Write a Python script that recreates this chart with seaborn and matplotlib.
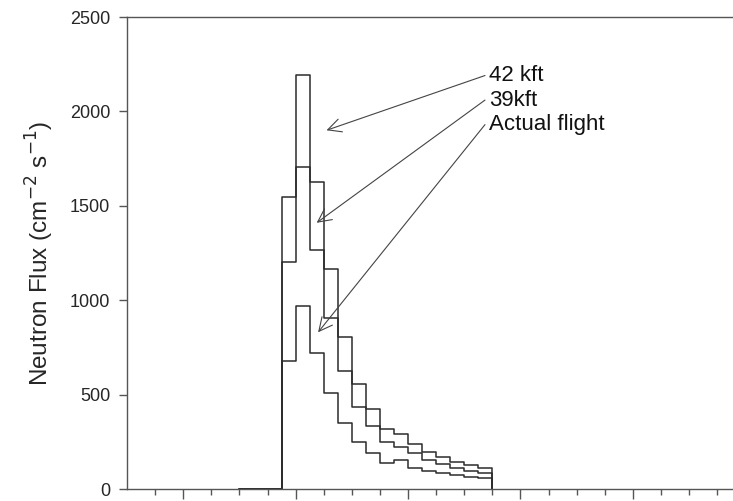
import matplotlib
matplotlib.use("Agg")
import matplotlib.pyplot as plt
import numpy as np
import pandas as pd
import seaborn as sns

# Bin edges of the step profile (x in minor-tick units) and flux per bin
bin_edges = [4.0, 4.5, 5.0, 5.5, 6.0, 6.5, 7.0, 7.5, 8.0, 8.5, 9.0,
             9.5, 10.0, 10.5, 11.0, 11.5, 12.0, 12.5, 13.0]
flux_42kft = [0, 0, 0, 1545, 2193, 1627, 1165, 805, 554, 424, 316,
              290, 238, 198, 168, 145, 127, 110]
flux_39kft = [0, 0, 0, 1200, 1706, 1268, 905, 627, 436, 334, 251,
              224, 189, 154, 132, 110, 97, 86]
flux_actual = [0, 0, 0, 680, 969, 719, 511, 352, 251, 192, 140,
               152, 113, 97, 83, 74, 65, 57]

series_names = ["42 kft", "39kft", "Actual flight"]
series_values = [flux_42kft, flux_39kft, flux_actual]

rows = []
for name, vals in zip(series_names, series_values):
    # last edge closes the histogram back to zero
    for x, y in zip(bin_edges, list(vals) + [0]):
        rows.append({"x": x, "flux": y, "series": name})
df = pd.DataFrame(rows)

sns.set_theme(style="ticks")
plt.rcParams["font.family"] = ["Liberation Sans", "DejaVu Sans"]

fig = plt.figure(figsize=(7.33, 5.01), dpi=100)
ax = fig.add_axes([127 / 733, 12 / 501, 606 / 733, 472 / 501])

line_color = "#2b2b2b"
sns.lineplot(data=df, x="x", y="flux", hue="series", hue_order=series_names,
             palette=[line_color] * 3, drawstyle="steps-post", linewidth=1.1,
             legend=False, ax=ax, sort=False, estimator=None)

ax.set_xlim(0, 606 / 28.1)
ax.set_ylim(0, 2500)
ax.set_yticks([0, 500, 1000, 1500, 2000, 2500])
ax.set_xticks([2, 6, 10, 14, 18])
ax.set_xticks([t for t in range(1, 22) if t not in (2, 6, 10, 14, 18)], minor=True)
ax.set_xticklabels([])
ax.set_xlabel("")
ax.set_ylabel("Neutron Flux (cm$^{-2}$ s$^{-1}$)", fontsize=17.5, labelpad=10)

spine_color = "#555555"
for side in ("left", "top", "bottom"):
    ax.spines[side].set_visible(True)
    ax.spines[side].set_color(spine_color)
    ax.spines[side].set_linewidth(1.0)
ax.spines["right"].set_visible(False)

ax.tick_params(axis="y", direction="out", length=6, width=1.0,
               color=spine_color, labelsize=13, pad=6)
ax.tick_params(axis="x", which="major", direction="out", length=7, width=1.0,
               color=spine_color)
ax.tick_params(axis="x", which="minor", direction="out", length=4, width=1.0,
               color=spine_color)

# Labels with arrows pointing to each curve
arrow_style = dict(arrowstyle="->", color="#444444", lw=0.8,
                   mutation_scale=24, shrinkA=0, shrinkB=0)
labels = [("42 kft", (7.1, 1900), (12.74, 2190)),
          ("39kft", (6.75, 1410), (12.74, 2060)),
          ("Actual flight", (6.8, 830), (12.74, 1930))]
for text, tip, pos in labels:
    ax.annotate("", xy=tip, xytext=pos, arrowprops=arrow_style)
    ax.text(pos[0] + 0.16, pos[1], text, fontsize=16, va="center", ha="left",
            color="#111111")

fig.savefig("out.png", dpi=100)
